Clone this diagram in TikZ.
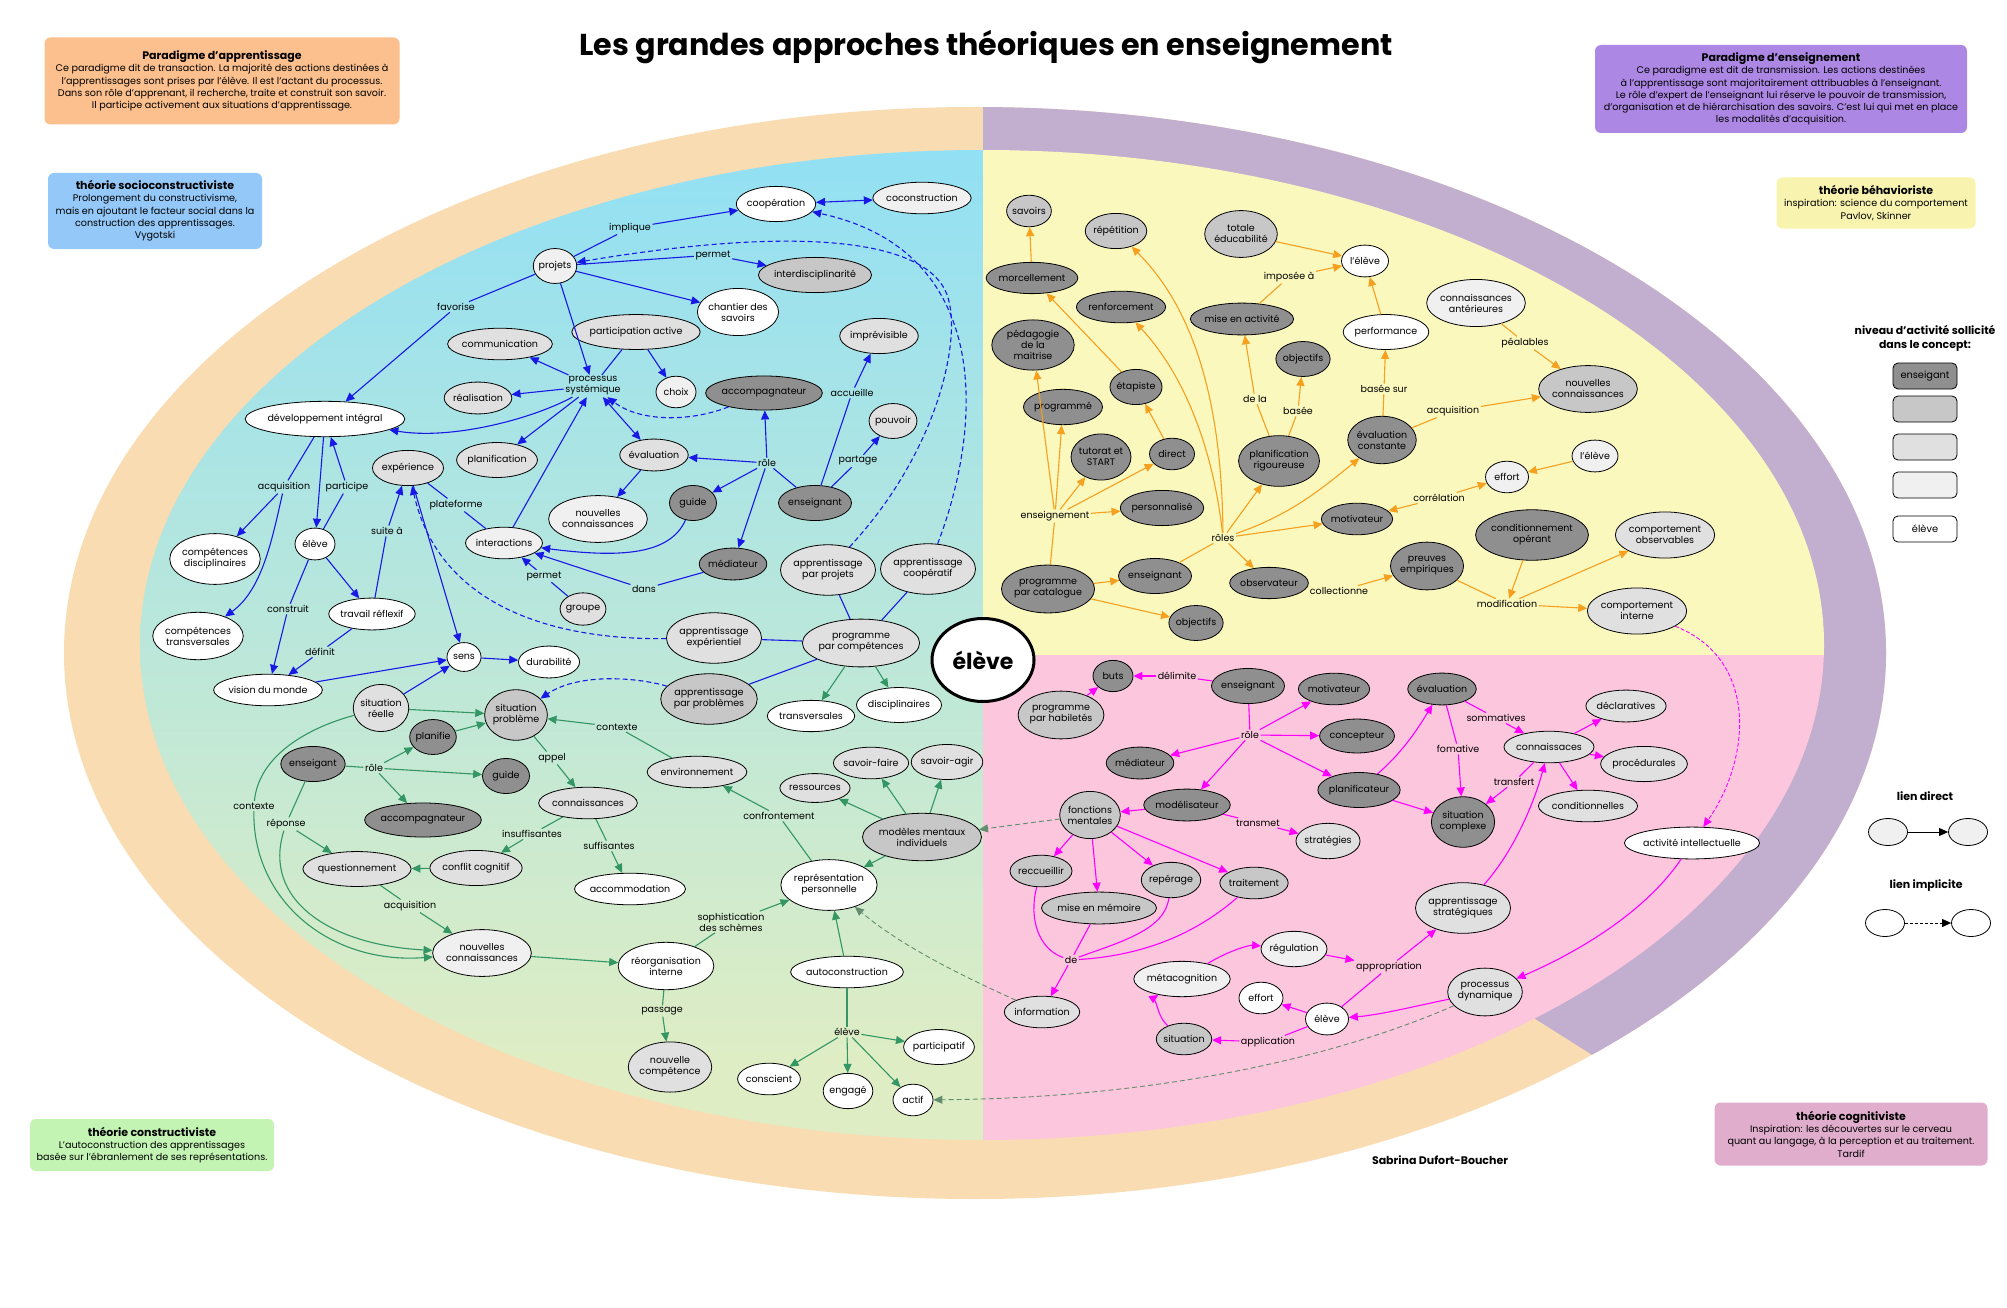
\documentclass[tikz,border=0pt]{standalone}
\usepackage{fontspec}
\setmainfont{Poppins}
\usetikzlibrary{shapes.geometric,arrows.meta}
\definecolor{SkyCyan}{RGB}{146,224,244}
\definecolor{LeafGreen}{RGB}{222,237,196}
\definecolor{PaleYellow}{RGB}{251,248,190}
\definecolor{PalePink}{RGB}{252,198,220}
\definecolor{Peach}{RGB}{250,220,178}
\definecolor{Lilac}{RGB}{194,174,206}
\definecolor{LinkBlue}{RGB}{25,25,230}
\definecolor{LinkOrange}{RGB}{245,160,30}
\definecolor{LinkMagenta}{RGB}{255,0,255}
\definecolor{LinkGreen}{RGB}{51,150,100}
\definecolor{LinkGray}{RGB}{100,140,110}
\definecolor{BoxOrange}{RGB}{252,192,142}
\definecolor{BoxBlue}{RGB}{148,200,248}
\definecolor{BoxPurple}{RGB}{173,135,228}
\definecolor{BoxYellow}{RGB}{248,244,176}
\definecolor{BoxGreen}{RGB}{196,244,180}
\definecolor{BoxMauve}{RGB}{224,174,204}
\pgfdeclareverticalshading{leftfade}{100bp}{color(0bp)=(LeafGreen); color(29bp)=(LeafGreen); color(75bp)=(SkyCyan); color(100bp)=(SkyCyan)}
\newcommand\cfont{\fontsize{9.5}{11}\selectfont}
\newcommand\bfont{\fontsize{9.6}{12.3}\selectfont}
\newcommand\tfont{\fontsize{11}{12.3}\selectfont\bfseries}
\tikzset{
  concept/.style={ellipse,draw=black,line width=0.8pt,inner xsep=-1pt,inner ysep=7.5pt,minimum width=40pt,align=center,font=\cfont},
  cdark/.style={concept,fill=black!44},
  cmid/.style={concept,fill=black!22},
  clight/.style={concept,fill=black!12},
  cpale/.style={concept,fill=black!6},
  cwhite/.style={concept,fill=white},
  lbl/.style={inner sep=1.5pt,align=center,font=\cfont},
  infobox/.style={rounded corners=6pt,align=center,font=\bfont,inner sep=4pt},
  keybox/.style={draw=black,line width=0.8pt,rounded corners=5pt,minimum width=64pt,minimum height=26pt,font=\fontsize{9.8}{11}\selectfont},
  blu/.style={draw=LinkBlue,line width=1.1pt},
  grn/.style={draw=LinkGreen,line width=1.1pt},
  org/.style={draw=LinkOrange,line width=1.1pt},
  mag/.style={draw=LinkMagenta,line width=1.1pt},
  imp/.style={draw=LinkGray,line width=0.9pt,dash pattern=on 5pt off 3pt},
}

\begin{document}
\begin{tikzpicture}[x=1pt,y=-1pt,>={Triangle[length=9pt,width=8pt]}]
\useasboundingbox (0,0) rectangle (2007,1308);
\fill[white] (0,0) rectangle (2007,1308);
% outer ring
\fill[Peach] (975,653) ellipse [x radius=911,y radius=546];
\begin{scope}
  \clip (983,40) -- (2007,40) -- (2007,1317) -- (983,670) -- cycle;
  \fill[Lilac] (975,653) ellipse [x radius=911,y radius=546];
\end{scope}
% four quarters
\begin{scope}
  \clip (0,0) rectangle (983,1308);
  \shade[shading=leftfade] (982,645) ellipse [x radius=842,y radius=495];
\end{scope}
\begin{scope}
  \clip (983,0) rectangle (2007,655);
  \fill[PaleYellow] (982,645) ellipse [x radius=842,y radius=495];
\end{scope}
\begin{scope}
  \clip (983,655) rectangle (2007,1308);
  \fill[PalePink] (982,645) ellipse [x radius=842,y radius=495];
\end{scope}

% title, boxes, signature
\node[font=\fontsize{30.2}{34}\selectfont\bfseries] (titre) at (986,47) {Les grandes approches théoriques en enseignement};
\node[infobox,fill=BoxOrange,minimum width=355pt,minimum height=87pt] (parA) at (222,81)
  {{\tfont Paradigme d'apprentissage}\\Ce paradigme dit de transaction. La majorité des actions destinées à\\l'apprentissages sont prises par l'élève. Il est l'actant du processus.\\Dans son rôle d'apprenant, il recherche, traite et construit son savoir.\\Il participe activement aux situations d'apprentissage.};
\node[infobox,fill=BoxBlue,minimum width=214pt,minimum height=76pt] (socio) at (155,211)
  {{\tfont théorie socioconstructiviste}\\Prolongement du constructivisme,\\mais en ajoutant le facteur social dans la\\construction des apprentissages.\\Vygotski};
\node[infobox,fill=BoxPurple,minimum width=372pt,minimum height=88pt] (parE) at (1781,89)
  {{\tfont Paradigme d'enseignement}\\Ce paradigme est dit de transmission. Les actions destinées\\à l'apprentissage sont majoritairement attribuables à l'enseignant.\\Le rôle d'expert de l'enseignant lui réserve le pouvoir de transmission,\\d'organisation et de hiérarchisation des savoirs. C'est lui qui met en place\\les modalités d'acquisition.};
\node[infobox,fill=BoxYellow,minimum width=199pt,minimum height=51pt] (behav) at (1876,203)
  {{\tfont théorie béhavioriste}\\inspiration: science du comportement\\Pavlov, Skinner};
\node[infobox,fill=BoxGreen,minimum width=244pt,minimum height=52pt] (constr) at (152,1145)
  {{\tfont théorie constructiviste}\\L'autoconstruction des apprentissages\\basée sur l'ébranlement de ses représentations.};
\node[infobox,fill=BoxMauve,minimum width=273pt,minimum height=63pt] (cognit) at (1851,1134)
  {{\tfont théorie cognitiviste}\\Inspiration: les découvertes sur le cerveau\\quant au langage, à la perception et au traitement.\\Tardif};
\node[font=\fontsize{11}{13}\selectfont\bfseries] (auteur) at (1440,1160) {Sabrina Dufort-Boucher};

% legend
\node[font=\fontsize{10.9}{14}\selectfont\bfseries,align=center] (niveau) at (1925,338) {niveau d'activité sollicité\\dans le concept:};
\node[keybox,fill=black!44] (k1) at (1925,376) {enseigant};
\node[keybox,fill=black!22] (k2) at (1925,409) {};
\node[keybox,fill=black!12] (k3) at (1925,447) {};
\node[keybox,fill=black!6] (k4) at (1925,485) {};
\node[keybox,fill=white] (k5) at (1925,529) {élève};
\node[font=\fontsize{11}{13}\selectfont\bfseries] (direct) at (1925,796) {lien direct};
\node[cpale,minimum width=39pt,minimum height=27pt,inner sep=0pt] (dA) at (1888,832) {};
\node[cpale,minimum width=39pt,minimum height=27pt,inner sep=0pt] (dB) at (1968,832) {};
\draw[line width=0.9pt,->] (dA) -- (dB);
\node[font=\fontsize{11}{13}\selectfont\bfseries] (implicite) at (1926,886) {lien implicite};
\node[cwhite,minimum width=39pt,minimum height=27pt,inner sep=0pt] (iA) at (1885,923) {};
\node[cwhite,minimum width=39pt,minimum height=27pt,inner sep=0pt] (iB) at (1971,923) {};
\draw[line width=0.9pt,dash pattern=on 3pt off 2pt,->] (iA) -- (iB);

% centre
\node[ellipse,draw=black,line width=3pt,fill=white,minimum width=102pt,minimum height=83pt,inner sep=0pt,font=\fontsize{22}{26}\selectfont\bfseries] (eleve) at (983,660) {élève};

% socioconstructivisme
\node[cpale] (proj) at (555,266) {projets};
\node[cwhite] (coop) at (776,204) {coopération};
\node[cpale] (cocon) at (922,198) {coconstruction};
\node[cmid] (interd) at (815,275) {interdisciplinarité};
\node[cwhite] (chant) at (738,312) {chantier des\\savoirs};
\node[clight] (partic) at (636,332) {participation active};
\node[clight] (commu) at (500,344) {communication};
\node[clight] (realis) at (478,398) {réalisation};
\node[cwhite] (devint) at (325,419) {développement intégral};
\node[cpale] (choix) at (676,392) {choix};
\node[cdark] (accompB) at (764,393) {accompagnateur};
\node[clight] (impr) at (879,336) {imprévisible};
\node[clight] (pouv) at (893,421) {pouvoir};
\node[clight] (planifB) at (497,460) {planification};
\node[clight] (exper) at (408,468) {expérience};
\node[clight] (evalB) at (654,455) {évaluation};
\node[cpale] (nconnB) at (598,519) {nouvelles\\connaissances};
\node[cdark,minimum width=47pt] (guideB) at (693,503) {guide};
\node[cdark] (enseiB) at (815,503) {enseignant};
\node[cdark] (mediaB) at (733,564) {médiateur};
\node[cpale] (inter) at (504,543) {interactions};
\node[clight] (groupe) at (583,609) {groupe};
\node[cwhite] (eleveB) at (315,544) {élève};
\node[cwhite] (compdis) at (215,559) {compétences\\disciplinaires};
\node[cwhite] (comptra) at (198,636) {compétences\\transversales};
\node[cwhite] (travref) at (372,614) {travail réflexif};
\node[clight] (appproj) at (828,570) {apprentissage\\par projets};
\node[clight] (appcoop) at (928,569) {apprentissage\\coopératif};
\node[clight] (appexp) at (714,638) {apprentissage\\expérientiel};
\node[clight] (progcomp) at (861,643) {programme\\par compétences};
\node[cmid] (appprob) at (709,699) {apprentissage\\par problèmes};
\node[cwhite,minimum width=34pt] (sens) at (464,657) {sens};
\node[cwhite] (durab) at (549,662) {durabilité};
\node[cwhite] (vision) at (268,690) {vision du monde};
\node[cwhite] (transv) at (811,716) {transversales};
\node[cwhite] (discip) at (899,705) {disciplinaires};
\node[lbl] (implique) at (630,228) {implique};
\node[lbl] (favorise) at (456,307) {favorise};
\node[lbl] (permetP) at (713,255) {permet};
\node[lbl] (proc) at (593,386) {processus\\systémique};
\node[lbl] (accueille) at (852,393) {accueille};
\node[lbl] (roleB) at (767,463) {rôle};
\node[lbl] (partage) at (858,461) {partage};
\node[lbl] (dans) at (644,589) {dans};
\node[lbl] (permetG) at (544,576) {permet};
\node[lbl] (acquisB) at (284,487) {acquisition};
\node[lbl] (participe) at (347,487) {participe};
\node[lbl] (plateforme) at (456,505) {plateforme};
\node[lbl] (suitea) at (387,531) {suite à};
\node[lbl] (construit) at (288,609) {construit};
\node[lbl] (definit) at (320,652) {définit};

% constructivisme
\node[clight] (sitreel) at (381,708) {situation\\réelle};
\node[cmid] (sitprob) at (516,715) {situation\\problème};
\node[cdark] (planifie) at (433,737) {planifie};
\node[cdark] (enseiG) at (313,764) {enseigant};
\node[cdark,minimum width=47pt] (guideG) at (506,776) {guide};
\node[clight] (connG) at (588,803) {connaissances};
\node[cdark] (accompG) at (423,820) {accompagnateur};
\node[clight] (questi) at (357,869) {questionnement};
\node[clight] (conflit) at (476,868) {conflit cognitif};
\node[cwhite] (accom) at (630,889) {accommodation};
\node[cpale] (nconnG) at (482,953) {nouvelles\\connaissances};
\node[clight] (environ) at (697,772) {environnement};
\node[clight] (savfaire) at (871,763) {savoir-faire};
\node[clight] (savagir) at (947,762) {savoir-agir};
\node[clight] (ressour) at (815,788) {ressources};
\node[cmid] (modeles) at (922,837) {modèles mentaux\\individuels};
\node[cwhite] (repres) at (829,885) {représentation\\personnelle};
\node[cwhite] (reorg) at (666,966) {réorganisation\\interne};
\node[cwhite] (autocons) at (847,972) {autoconstruction};
\node[clight] (nouvcomp) at (670,1067) {nouvelle\\compétence};
\node[cwhite] (particip) at (939,1047) {participatif};
\node[cwhite] (conscient) at (769,1079) {conscient};
\node[cwhite] (engage) at (848,1091) {engagé};
\node[cwhite] (actif) at (913,1100) {actif};
\node[lbl] (roleG) at (374,768) {rôle};
\node[lbl] (appel) at (552,758) {appel};
\node[lbl] (contexteL) at (254,806) {contexte};
\node[lbl] (reponse) at (286,824) {réponse};
\node[lbl] (insuff) at (532,834) {insuffisantes};
\node[lbl] (suff) at (609,846) {suffisantes};
\node[lbl] (acquisG) at (410,906) {acquisition};
\node[lbl] (contexteR) at (617,727) {contexte};
\node[lbl] (confront) at (779,816) {confrontement};
\node[lbl] (sophis) at (731,922) {sophistication\\des schèmes};
\node[lbl] (passage) at (662,1011) {passage};
\node[lbl] (eleveL) at (847,1032) {élève};

% behaviorisme
\node[cmid] (savoirs) at (1029,211) {savoirs};
\node[cmid] (repet) at (1116,231) {répétition};
\node[cmid] (totale) at (1241,234) {totale\\éducabilité};
\node[cwhite,minimum width=47pt] (leleve) at (1365,261) {l'élève};
\node[cdark] (morcel) at (1032,278) {morcellement};
\node[cdark] (renfor) at (1121,307) {renforcement};
\node[cdark] (miseact) at (1242,319) {mise en activité};
\node[cwhite] (perf) at (1386,332) {performance};
\node[cdark,inner ysep=3pt,inner xsep=3pt] (pedago) at (1033,345) {pédagogie\\de la\\maitrise};
\node[cdark] (objA) at (1303,359) {objectifs};
\node[cdark] (etap) at (1136,387) {étapiste};
\node[cdark] (progr) at (1063,407) {programmé};
\node[cdark] (evalconst) at (1382,440) {évaluation\\constante};
\node[cdark] (tutorat) at (1101,457) {tutorat et\\START};
\node[cdark,minimum width=45pt] (direct) at (1172,454) {direct};
\node[cdark] (planrig) at (1279,461) {planification\\rigoureuse};
\node[cdark] (person) at (1162,508) {personnalisé};
\node[cdark] (motivY) at (1357,519) {motivateur};
\node[cdark] (progcat) at (1048,589) {programme\\par catalogue};
\node[cdark] (enseiY) at (1155,576) {enseignant};
\node[cdark] (observ) at (1269,583) {observateur};
\node[cdark] (objB) at (1196,623) {objectifs};
\node[cpale] (connant) at (1476,303) {connaissances\\antérieures};
\node[cmid] (nconnY) at (1588,389) {nouvelles\\connaissances};
\node[cpale,minimum width=46pt] (leleveR) at (1595,456) {l'élève};
\node[cpale,minimum width=43pt] (effortY) at (1507,477) {effort};
\node[cdark] (condop) at (1532,535) {conditionnement\\opérant};
\node[clight] (compobs) at (1665,535) {comportement\\observables};
\node[cdark] (preuves) at (1427,566) {preuves\\empiriques};
\node[clight] (compint) at (1637,611) {comportement\\interne};
\node[lbl] (imposee) at (1289,277) {imposée à};
\node[lbl] (dela) at (1255,399) {de la};
\node[lbl] (basee) at (1298,411) {basée};
\node[lbl] (baseesur) at (1384,389) {basée sur};
\node[lbl] (enseignement) at (1055,516) {enseignement};
\node[lbl] (roles) at (1223,538) {rôles};
\node[lbl] (collect) at (1339,591) {collectionne};
\node[lbl] (peal) at (1525,343) {péalables};
\node[lbl] (acquisY) at (1453,411) {acquisition};
\node[lbl] (correl) at (1439,498) {corrélation};
\node[lbl] (modif) at (1507,604) {modification};

% cognitivisme
\node[cdark] (buts) at (1113,676) {buts};
\node[cdark] (enseiP) at (1248,686) {enseignant};
\node[cdark] (motivP) at (1334,689) {motivateur};
\node[cdark] (evalP) at (1442,689) {évaluation};
\node[cmid] (proghab) at (1061,715) {programme\\par habiletés};
\node[cdark] (concep) at (1357,736) {concepteur};
\node[cdark] (mediaP) at (1140,763) {médiateur};
\node[cdark] (planifP) at (1359,790) {planificateur};
\node[cdark] (modelis) at (1187,805) {modélisateur};
\node[cmid] (fonct) at (1090,815) {fonctions\\mentales};
\node[clight] (strat) at (1328,841) {stratégies};
\node[cmid] (reccu) at (1041,871) {reccueillir};
\node[cmid] (reper) at (1171,880) {repérage};
\node[cmid] (trait) at (1254,883) {traitement};
\node[cmid] (memoire) at (1099,908) {mise en mémoire};
\node[cpale] (regul) at (1294,949) {régulation};
\node[cpale] (metacog) at (1182,979) {métacognition};
\node[cwhite,minimum width=44pt] (effortP) at (1261,998) {effort};
\node[cwhite,minimum width=43pt] (eleveP) at (1327,1019) {élève};
\node[clight] (info) at (1042,1012) {information};
\node[cmid] (situ) at (1184,1039) {situation};
\node[clight] (connP) at (1549,747) {connaissaces};
\node[clight] (decl) at (1626,706) {déclaratives};
\node[clight] (proced) at (1644,764) {procédurales};
\node[clight] (condit) at (1588,806) {conditionnelles};
\node[cdark] (sitcomp) at (1463,822) {situation\\complexe};
\node[cwhite] (activ) at (1692,843) {activité intellectuelle};
\node[clight] (appstrat) at (1463,908) {apprentissage\\stratégiques};
\node[clight] (procdyn) at (1485,992) {processus\\dynamique};
\node[lbl] (delimite) at (1177,676) {délimite};
\node[lbl] (roleP) at (1250,735) {rôle};
\node[lbl] (transmet) at (1258,823) {transmet};
\node[lbl] (de) at (1071,960) {de};
\node[lbl] (approp) at (1389,967) {appropriation};
\node[lbl] (applic) at (1268,1042) {application};
\node[lbl] (somm) at (1496,718) {sommatives};
\node[lbl] (fomat) at (1458,749) {fomative};
\node[lbl] (transf) at (1514,782) {transfert};

% liens socioconstructivistes
\draw[blu] (proj) -- (implique);
\draw[blu,->] (implique) -- (coop);
\draw[blu] (proj) -- (permetP);
\draw[blu,->] (permetP) -- (interd);
\draw[blu,->] (proj) -- (chant);
\draw[blu,->] (proj) -- (proc);
\draw[blu] (proj) -- (favorise);
\draw[blu,->] (favorise) -- (devint);
\draw[blu,->] (proc) -- (commu);
\draw[blu,->] (proc) -- (realis);
\draw[blu,->] (proc) .. controls (530,420) and (450,440) .. (devint);
\draw[blu,->] (proc) -- (planifB);
\draw[blu,<->] (proc) -- (evalB);
\draw[blu] (partic) -- (proc);
\draw[blu,->] (partic) -- (choix);
\draw[blu,->] (inter) -- (proc);
\draw[blu,->] (evalB) -- (nconnB);
\draw[blu] (enseiB) -- (roleB);
\draw[blu,->] (roleB) -- (accompB);
\draw[blu,->] (roleB) -- (evalB);
\draw[blu,->] (roleB) -- (guideB);
\draw[blu,->] (roleB) -- (mediaB);
\draw[blu] (enseiB) -- (accueille);
\draw[blu,->] (accueille) -- (impr);
\draw[blu] (enseiB) -- (partage);
\draw[blu,->] (partage) -- (pouv);
\draw[blu,->] (guideB) .. controls (670,555) and (620,558) .. (inter);
\draw[blu] (mediaB) -- (dans);
\draw[blu,->] (dans) -- (inter);
\draw[blu] (groupe) -- (permetG);
\draw[blu,->] (permetG) -- (inter);
\draw[blu] (inter) -- (plateforme);
\draw[blu] (plateforme) -- (exper);
\draw[blu] (travref) -- (suitea);
\draw[blu,->] (suitea) -- (exper);
\draw[blu,->] (exper) -- (sens);
\draw[blu] (devint) -- (acquisB);
\draw[blu,->] (acquisB) -- (compdis);
\draw[blu,->] (acquisB) .. controls (272,540) and (262,590) .. (comptra);
\draw[blu,->] (devint) -- (eleveB);
\draw[blu] (eleveB) -- (participe);
\draw[blu,->] (participe) -- (devint);
\draw[blu,->] (eleveB) -- (travref);
\draw[blu] (eleveB) -- (construit);
\draw[blu,->] (construit) -- (vision);
\draw[blu] (travref) -- (definit);
\draw[blu,->] (definit) -- (vision);
\draw[blu,->] (vision) -- (sens);
\draw[blu,->] (sitreel) -- (sens);
\draw[blu,->] (sens) -- (durab);
\draw[blu,<->] (coop) -- (cocon);
\draw[blu] (progcomp) -- (appproj);
\draw[blu] (progcomp) -- (appcoop);
\draw[blu] (progcomp) -- (appexp);
\draw[blu] (progcomp) -- (appprob);
\draw[blu,dash pattern=on 5pt off 3pt,->] (appcoop) .. controls (985,420) and (990,250) .. (coop);
\draw[blu,dash pattern=on 5pt off 3pt,->] (appproj) .. controls (940,450) and (965,330) .. (945,290) .. controls (920,240) and (800,225) .. (proj);
\draw[blu,dash pattern=on 5pt off 3pt,->] (accompB) .. controls (690,422) and (640,422) .. (proc);
\draw[blu,dash pattern=on 5pt off 3pt,->] (appexp) .. controls (560,640) and (440,610) .. (exper);
\draw[blu,dash pattern=on 5pt off 3pt,->] (appprob) .. controls (640,678) and (580,672) .. (sitprob);

% liens constructivistes
\draw[grn,->] (progcomp) -- (transv);
\draw[grn,->] (progcomp) -- (discip);
\draw[grn,->] (sitreel) -- (sitprob);
\draw[grn,->] (planifie) -- (sitprob);
\draw[grn] (enseiG) -- (roleG);
\draw[grn,->] (roleG) -- (planifie);
\draw[grn,->] (roleG) -- (guideG);
\draw[grn,->] (roleG) -- (accompG);
\draw[grn] (enseiG) -- (reponse);
\draw[grn,->] (reponse) -- (questi);
\draw[grn,->] (reponse) .. controls (262,900) and (330,945) .. (nconnG);
\draw[grn] (sitreel) .. controls (300,730) and (258,760) .. (contexteL);
\draw[grn,->] (contexteL) .. controls (252,900) and (330,965) .. (nconnG);
\draw[grn] (sitprob) -- (appel);
\draw[grn,->] (appel) -- (connG);
\draw[grn] (connG) -- (insuff);
\draw[grn,->] (insuff) -- (conflit);
\draw[grn] (connG) -- (suff);
\draw[grn,->] (suff) -- (accom);
\draw[grn,->] (conflit) -- (questi);
\draw[grn] (questi) -- (acquisG);
\draw[grn,->] (acquisG) -- (nconnG);
\draw[grn,->] (nconnG) -- (reorg);
\draw[grn] (environ) -- (contexteR);
\draw[grn,->] (contexteR) -- (sitprob);
\draw[grn] (repres) -- (confront);
\draw[grn,->] (confront) -- (environ);
\draw[grn,->] (modeles) -- (ressour);
\draw[grn,->] (modeles) -- (savfaire);
\draw[grn,->] (modeles) -- (savagir);
\draw[grn,->] (modeles) -- (repres);
\draw[grn] (reorg) -- (sophis);
\draw[grn,->] (sophis) -- (repres);
\draw[grn] (reorg) -- (passage);
\draw[grn,->] (passage) -- (nouvcomp);
\draw[grn,->] (autocons) -- (repres);
\draw[grn] (autocons) -- (eleveL);
\draw[grn,->] (eleveL) -- (particip);
\draw[grn,->] (eleveL) -- (conscient);
\draw[grn,->] (eleveL) -- (engage);
\draw[grn,->] (eleveL) -- (actif);
\draw[imp,->] (fonct) -- (modeles);
\draw[imp,->] (info) .. controls (960,975) and (900,945) .. (repres);
\draw[imp,->] (procdyn) .. controls (1330,1060) and (1150,1098) .. (actif);

% liens behavioristes
\draw[org,->] (morcel) -- (savoirs);
\draw[org,->] (etap) -- (morcel);
\draw[org,->] (direct) -- (etap);
\draw[org] (progcat) -- (enseignement);
\draw[org,->] (enseignement) -- (pedago);
\draw[org,->] (enseignement) -- (progr);
\draw[org,->] (enseignement) -- (tutorat);
\draw[org,->] (enseignement) -- (direct);
\draw[org,->] (enseignement) -- (person);
\draw[org,->] (progcat) -- (enseiY);
\draw[org,->] (progcat) -- (objB);
\draw[org] (enseiY) -- (roles);
\draw[org,->] (roles) .. controls (1222,430) and (1205,320) .. (repet);
\draw[org,->] (roles) .. controls (1212,440) and (1180,370) .. (renfor);
\draw[org,->] (roles) -- (planrig);
\draw[org,->] (roles) .. controls (1290,515) and (1320,490) .. (evalconst);
\draw[org,->] (roles) -- (motivY);
\draw[org,->] (roles) -- (observ);
\draw[org] (planrig) -- (dela);
\draw[org,->] (dela) -- (miseact);
\draw[org] (planrig) -- (basee);
\draw[org,->] (basee) -- (objA);
\draw[org] (miseact) -- (imposee);
\draw[org,->] (imposee) -- (leleve);
\draw[org,->] (totale) -- (leleve);
\draw[org] (evalconst) -- (baseesur);
\draw[org,->] (baseesur) -- (perf);
\draw[org,->] (perf) -- (leleve);
\draw[org] (evalconst) -- (acquisY);
\draw[org,->] (acquisY) -- (nconnY);
\draw[org] (connant) -- (peal);
\draw[org,->] (peal) -- (nconnY);
\draw[org,->] (leleveR) -- (effortY);
\draw[org,->] (correl) -- (effortY);
\draw[org,->] (correl) -- (motivY);
\draw[org] (observ) -- (collect);
\draw[org,->] (collect) -- (preuves);
\draw[org] (preuves) -- (modif);
\draw[org,->] (modif) -- (compint);
\draw[org,->] (modif) -- (compobs);
\draw[org,->] (condop) -- (modif);

% liens cognitivistes
\draw[mag] (enseiP) -- (delimite);
\draw[mag,->] (delimite) -- (buts);
\draw[mag,->] (proghab) -- (buts);
\draw[mag] (enseiP) -- (roleP);
\draw[mag,->] (roleP) -- (motivP);
\draw[mag,->] (roleP) -- (concep);
\draw[mag,->] (roleP) -- (planifP);
\draw[mag,->] (roleP) -- (modelis);
\draw[mag,->] (roleP) -- (mediaP);
\draw[mag,->] (planifP) .. controls (1405,750) and (1420,725) .. (evalP);
\draw[mag,->] (planifP) -- (sitcomp);
\draw[mag] (evalP) -- (fomat);
\draw[mag,->] (fomat) -- (sitcomp);
\draw[mag] (evalP) -- (somm);
\draw[mag,->] (somm) -- (connP);
\draw[mag,->] (connP) -- (decl);
\draw[mag,->] (connP) -- (proced);
\draw[mag,->] (connP) -- (condit);
\draw[mag] (connP) -- (transf);
\draw[mag,->] (transf) -- (sitcomp);
\draw[mag,->] (appstrat) .. controls (1515,850) and (1535,800) .. (connP);
\draw[mag,->] (modelis) -- (fonct);
\draw[mag] (modelis) -- (transmet);
\draw[mag,->] (transmet) -- (strat);
\draw[mag,->] (fonct) -- (reccu);
\draw[mag,->] (fonct) -- (memoire);
\draw[mag,->] (fonct) -- (reper);
\draw[mag,->] (fonct) -- (trait);
\draw[mag] (reccu) .. controls (1028,920) and (1040,950) .. (de);
\draw[mag] (memoire) -- (de);
\draw[mag] (reper) .. controls (1165,930) and (1120,942) .. (de);
\draw[mag] (trait) .. controls (1200,930) and (1150,955) .. (de);
\draw[mag,->] (de) -- (info);
\draw[mag,->] (metacog) .. controls (1230,950) and (1250,945) .. (regul);
\draw[mag,->] (regul) -- (approp);
\draw[mag] (eleveP) -- (approp);
\draw[mag,->] (approp) -- (appstrat);
\draw[mag,->] (eleveP) -- (effortP);
\draw[mag] (eleveP) -- (applic);
\draw[mag,->] (applic) -- (situ);
\draw[mag,->] (situ) .. controls (1155,1015) and (1158,995) .. (metacog);
\draw[mag,->] (procdyn) .. controls (1420,1005) and (1380,1015) .. (eleveP);
\draw[mag,->] (activ) .. controls (1640,920) and (1560,960) .. (procdyn);
\draw[mag,line width=0.9pt,dash pattern=on 4pt off 2pt,->] (compint) .. controls (1760,660) and (1750,760) .. (activ);
\end{tikzpicture}
\end{document}
